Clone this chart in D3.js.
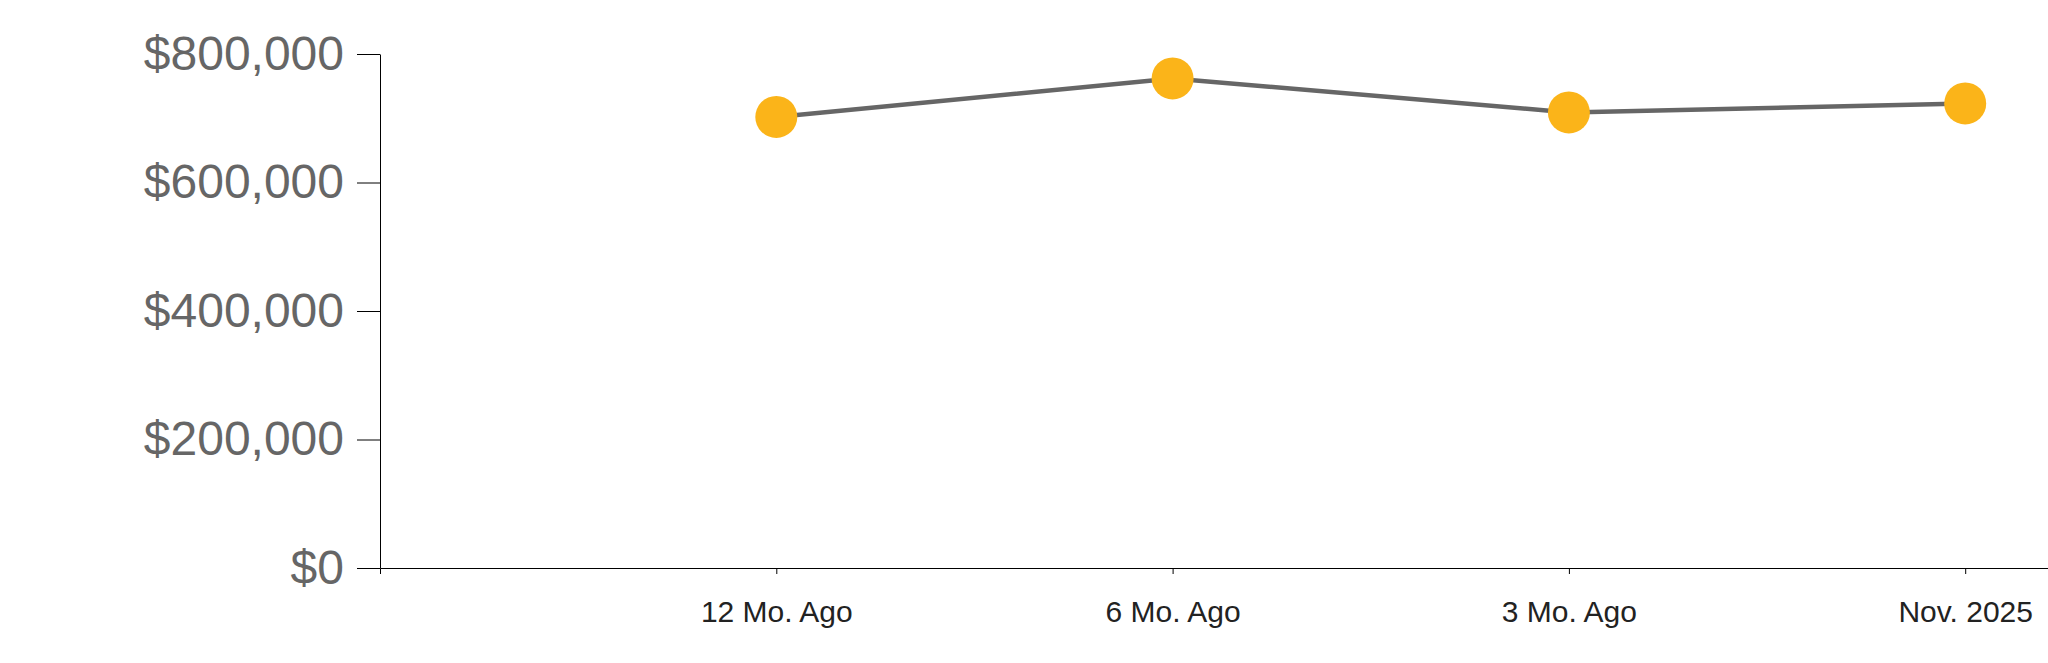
<!DOCTYPE html>
<html>
<head>
<meta charset="utf-8">
<script src="https://cdn.jsdelivr.net/npm/d3@7/dist/d3.min.js"></script>
<style>
  html, body { margin: 0; padding: 0; background: #fff; overflow: hidden; }
  svg { display: block; }
</style>
</head>
<body>
<svg id="chart" width="2048" height="663"></svg>
<script>
const categories = ["12 Mo. Ago", "6 Mo. Ago", "3 Mo. Ago", "Nov. 2025"];
const values = [702000, 762000, 709000, 723000];
const yTicks = [0, 200000, 400000, 600000, 800000];

const svg = d3.select("#chart");
const plotLeft = 380, plotBottom = 568, plotTop = 54;
const step = 396.3;

const x = d3.scalePoint().domain(categories)
  .range([plotLeft, plotLeft + step * (categories.length + 1)]).padding(1);
const y = d3.scaleLinear().domain([0, 800000]).range([plotBottom, plotTop]);

const fmt = d3.format("$,.0f");

const yAxis = svg.append("g")
  .attr("transform", `translate(${plotLeft},0)`)
  .call(d3.axisLeft(y).tickValues(yTicks).tickFormat(fmt).tickSize(23).tickSizeOuter(0).tickPadding(13));
yAxis.selectAll("text")
  .attr("font-family", "Arial, 'Liberation Sans', sans-serif")
  .attr("font-size", 48)
  .attr("fill", "#666666");
yAxis.selectAll("line, path").attr("stroke", "#000");

const xAxis = svg.append("g")
  .attr("transform", `translate(0,${plotBottom})`)
  .call(d3.axisBottom(x).tickSize(6).tickSizeOuter(6).tickPadding(27));
xAxis.selectAll("text")
  .attr("font-family", "Arial, 'Liberation Sans', sans-serif")
  .attr("font-size", 30)
  .attr("fill", "#222222");
xAxis.selectAll("line, path").attr("stroke", "#000");

const data = categories.map((c, i) => ({ c, v: values[i] }));

svg.append("path")
  .datum(data)
  .attr("fill", "none")
  .attr("stroke", "#666666")
  .attr("stroke-width", 4.5)
  .attr("d", d3.line().x(d => x(d.c)).y(d => y(d.v)));

svg.append("g").selectAll("circle")
  .data(data)
  .join("circle")
  .attr("cx", d => x(d.c))
  .attr("cy", d => y(d.v))
  .attr("r", 21)
  .attr("fill", "#fbb419");
</script>
</body>
</html>
